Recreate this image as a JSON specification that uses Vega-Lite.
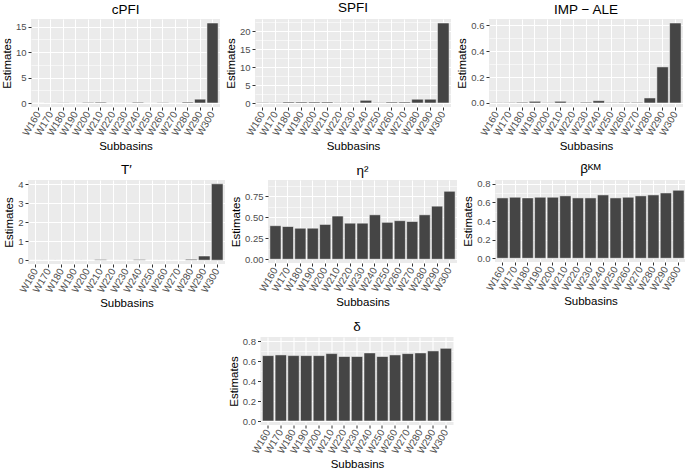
{
  "$schema": "https://vega.github.io/schema/vega-lite/v6.json",
  "padding": {"left": 1, "top": 0, "right": 1, "bottom": 2},
  "background": "white",
  "datasets": {
    "est": [
      {"sub": "W160", "cPFI": 0.0, "SPFI": 0.12, "IMP": 0.003, "T": 0.0, "eta": 0.40, "beta": 0.648, "delta": 0.654},
      {"sub": "W170", "cPFI": 0.02, "SPFI": 0.12, "IMP": 0.003, "T": 0.0, "eta": 0.39, "beta": 0.655, "delta": 0.661},
      {"sub": "W180", "cPFI": 0.04, "SPFI": 0.28, "IMP": 0.006, "T": 0.0, "eta": 0.37, "beta": 0.648, "delta": 0.654},
      {"sub": "W190", "cPFI": 0.01, "SPFI": 0.28, "IMP": 0.013, "T": 0.0, "eta": 0.37, "beta": 0.655, "delta": 0.654},
      {"sub": "W200", "cPFI": 0.12, "SPFI": 0.28, "IMP": 0.003, "T": 0.0, "eta": 0.415, "beta": 0.655, "delta": 0.654},
      {"sub": "W210", "cPFI": 0.16, "SPFI": 0.28, "IMP": 0.013, "T": 0.04, "eta": 0.515, "beta": 0.670, "delta": 0.674},
      {"sub": "W220", "cPFI": 0.01, "SPFI": 0.12, "IMP": 0.003, "T": 0.0, "eta": 0.43, "beta": 0.648, "delta": 0.645},
      {"sub": "W230", "cPFI": 0.01, "SPFI": 0.15, "IMP": 0.006, "T": 0.0, "eta": 0.43, "beta": 0.648, "delta": 0.645},
      {"sub": "W240", "cPFI": 0.15, "SPFI": 0.75, "IMP": 0.018, "T": 0.04, "eta": 0.53, "beta": 0.680, "delta": 0.681},
      {"sub": "W250", "cPFI": 0.01, "SPFI": 0.12, "IMP": 0.003, "T": 0.0, "eta": 0.44, "beta": 0.648, "delta": 0.645},
      {"sub": "W260", "cPFI": 0.10, "SPFI": 0.25, "IMP": 0.005, "T": 0.0, "eta": 0.46, "beta": 0.655, "delta": 0.661},
      {"sub": "W270", "cPFI": 0.01, "SPFI": 0.28, "IMP": 0.005, "T": 0.0, "eta": 0.45, "beta": 0.670, "delta": 0.674},
      {"sub": "W280", "cPFI": 0.18, "SPFI": 1.05, "IMP": 0.039, "T": 0.05, "eta": 0.53, "beta": 0.680, "delta": 0.681},
      {"sub": "W290", "cPFI": 0.75, "SPFI": 1.05, "IMP": 0.279, "T": 0.22, "eta": 0.633, "beta": 0.701, "delta": 0.701},
      {"sub": "W300", "cPFI": 15.7, "SPFI": 22.3, "IMP": 0.618, "T": 4.02, "eta": 0.81, "beta": 0.730, "delta": 0.727}
    ]
  },
  "config": {
    "font": "Liberation Sans",
    "view": {"fill": "#EBEBEB", "stroke": null},
    "axis": {
      "domain": false,
      "tickColor": "#333333",
      "tickSize": 3,
      "tickWidth": 1,
      "labelColor": "#4D4D4D",
      "labelFontSize": 9.5,
      "labelPadding": 2,
      "labelFont": "Liberation Sans",
      "titleFont": "Liberation Sans",
      "titleFontSize": 11.5,
      "titleFontWeight": "normal",
      "titleColor": "#000000",
      "titlePadding": 3,
      "gridColor": "#FFFFFF",
      "gridWidth": 1.1,
      "labelOverlap": false,
      "labelFlush": false
    },
    "axisX": {"labelAngle": -60, "labelAlign": "right", "labelBaseline": "middle", "bandPosition": 0.5, "grid": true, "labelFontSize": 10},
    "title": {"font": "Liberation Sans", "fontSize": 13.5, "fontWeight": "normal", "color": "#000000", "anchor": "middle", "frame": "group", "offset": 3},
    "bar": {"fill": "#454545", "stroke": "#FFFFFF", "strokeWidth": 0.5}
  },
  "vconcat": [
    {
      "hconcat": [
        {
          "title": "cPFI",
          "width": 189, "height": 88,
          "data": {"name": "est"},
          "mark": "bar",
          "encoding": {
            "x": {"field": "sub", "type": "nominal", "sort": null, "scale": {"paddingInner": 0.1, "paddingOuter": 0.15}, "axis": {"title": "Subbasins"}},
            "y": {"field": "cPFI", "type": "quantitative", "scale": {"domain": [-0.785, 16.485], "nice": false, "zero": false},
              "axis": {"title": "Estimates", "format": "d", "values": [0, 2.5, 5, 7.5, 10, 12.5, 15],
                "labelExpr": "abs(datum.value/5 - round(datum.value/5)) > 0.01 ? '' : datum.label",
                "gridWidth": {"condition": {"test": "abs(datum.value/5 - round(datum.value/5)) > 0.01", "value": 0.55}, "value": 1.1},
                "tickOpacity": {"condition": {"test": "abs(datum.value/5 - round(datum.value/5)) > 0.01", "value": 0}, "value": 1}}},
            "y2": {"datum": 0}
          }
        },
        {
          "title": "SPFI",
          "width": 196, "height": 88,
          "data": {"name": "est"},
          "mark": "bar",
          "encoding": {
            "x": {"field": "sub", "type": "nominal", "sort": null, "scale": {"paddingInner": 0.1, "paddingOuter": 0.15}, "axis": {"title": "Subbasins"}},
            "y": {"field": "SPFI", "type": "quantitative", "scale": {"domain": [-1.115, 23.415], "nice": false, "zero": false},
              "axis": {"title": "Estimates", "format": "d", "values": [0, 2.5, 5, 7.5, 10, 12.5, 15, 17.5, 20, 22.5],
                "labelExpr": "abs(datum.value/5 - round(datum.value/5)) > 0.01 ? '' : datum.label",
                "gridWidth": {"condition": {"test": "abs(datum.value/5 - round(datum.value/5)) > 0.01", "value": 0.55}, "value": 1.1},
                "tickOpacity": {"condition": {"test": "abs(datum.value/5 - round(datum.value/5)) > 0.01", "value": 0}, "value": 1}}},
            "y2": {"datum": 0}
          }
        },
        {
          "title": "IMP − ALE",
          "width": 194, "height": 88,
          "data": {"name": "est"},
          "mark": "bar",
          "encoding": {
            "x": {"field": "sub", "type": "nominal", "sort": null, "scale": {"paddingInner": 0.1, "paddingOuter": 0.15}, "axis": {"title": "Subbasins"}},
            "y": {"field": "IMP", "type": "quantitative", "scale": {"domain": [-0.031, 0.649], "nice": false, "zero": false},
              "axis": {"title": "Estimates", "format": ".1f", "values": [0, 0.1, 0.2, 0.3, 0.4, 0.5, 0.6],
                "labelExpr": "abs(datum.value/0.2 - round(datum.value/0.2)) > 0.01 ? '' : datum.label",
                "gridWidth": {"condition": {"test": "abs(datum.value/0.2 - round(datum.value/0.2)) > 0.01", "value": 0.55}, "value": 1.1},
                "tickOpacity": {"condition": {"test": "abs(datum.value/0.2 - round(datum.value/0.2)) > 0.01", "value": 0}, "value": 1}}},
            "y2": {"datum": 0}
          }
        }
      ],
      "spacing": 5
    },
    {
      "hconcat": [
        {
          "title": "T′",
          "width": 197, "height": 84,
          "data": {"name": "est"},
          "mark": "bar",
          "encoding": {
            "x": {"field": "sub", "type": "nominal", "sort": null, "scale": {"paddingInner": 0.1, "paddingOuter": 0.15}, "axis": {"title": "Subbasins"}},
            "y": {"field": "T", "type": "quantitative", "scale": {"domain": [-0.201, 4.221], "nice": false, "zero": false},
              "axis": {"title": "Estimates", "format": "d", "values": [0, 0.5, 1, 1.5, 2, 2.5, 3, 3.5, 4],
                "labelExpr": "abs(datum.value - round(datum.value)) > 0.01 ? '' : datum.label",
                "gridWidth": {"condition": {"test": "abs(datum.value - round(datum.value)) > 0.01", "value": 0.55}, "value": 1.1},
                "tickOpacity": {"condition": {"test": "abs(datum.value - round(datum.value)) > 0.01", "value": 0}, "value": 1}}},
            "y2": {"datum": 0}
          }
        },
        {
          "title": "η²",
          "width": 189, "height": 83,
          "data": {"name": "est"},
          "mark": "bar",
          "encoding": {
            "x": {"field": "sub", "type": "nominal", "sort": null, "scale": {"paddingInner": 0.1, "paddingOuter": 0.15}, "axis": {"title": "Subbasins"}},
            "y": {"field": "eta", "type": "quantitative", "scale": {"domain": [-0.045, 0.945], "nice": false, "zero": false},
              "axis": {"title": "Estimates", "format": ".2f", "values": [0, 0.125, 0.25, 0.375, 0.5, 0.625, 0.75, 0.875],
                "labelExpr": "abs(datum.value/0.25 - round(datum.value/0.25)) > 0.01 ? '' : datum.label",
                "gridWidth": {"condition": {"test": "abs(datum.value/0.25 - round(datum.value/0.25)) > 0.01", "value": 0.55}, "value": 1.1},
                "tickOpacity": {"condition": {"test": "abs(datum.value/0.25 - round(datum.value/0.25)) > 0.01", "value": 0}, "value": 1}}},
            "y2": {"datum": 0}
          }
        },
        {
          "title": "βᴷᴹ",
          "width": 191, "height": 82,
          "data": {"name": "est"},
          "mark": "bar",
          "encoding": {
            "x": {"field": "sub", "type": "nominal", "sort": null, "scale": {"paddingInner": 0.1, "paddingOuter": 0.15}, "axis": {"title": "Subbasins"}},
            "y": {"field": "beta", "type": "quantitative", "scale": {"domain": [-0.04, 0.84], "nice": false, "zero": false},
              "axis": {"title": "Estimates", "format": ".1f", "values": [0, 0.1, 0.2, 0.3, 0.4, 0.5, 0.6, 0.7, 0.8],
                "labelExpr": "abs(datum.value/0.2 - round(datum.value/0.2)) > 0.01 ? '' : datum.label",
                "gridWidth": {"condition": {"test": "abs(datum.value/0.2 - round(datum.value/0.2)) > 0.01", "value": 0.55}, "value": 1.1},
                "tickOpacity": {"condition": {"test": "abs(datum.value/0.2 - round(datum.value/0.2)) > 0.01", "value": 0}, "value": 1}}},
            "y2": {"datum": 0}
          }
        }
      ],
      "spacing": 5
    },
    {
      "title": "δ",
      "width": 193, "height": 88,
      "data": {"name": "est"},
      "mark": "bar",
      "encoding": {
        "x": {"field": "sub", "type": "nominal", "sort": null, "scale": {"paddingInner": 0.1, "paddingOuter": 0.15}, "axis": {"title": "Subbasins"}},
        "y": {"field": "delta", "type": "quantitative", "scale": {"domain": [-0.04, 0.84], "nice": false, "zero": false},
          "axis": {"title": "Estimates", "format": ".1f", "values": [0, 0.1, 0.2, 0.3, 0.4, 0.5, 0.6, 0.7, 0.8],
            "labelExpr": "abs(datum.value/0.2 - round(datum.value/0.2)) > 0.01 ? '' : datum.label",
            "gridWidth": {"condition": {"test": "abs(datum.value/0.2 - round(datum.value/0.2)) > 0.01", "value": 0.55}, "value": 1.1},
            "tickOpacity": {"condition": {"test": "abs(datum.value/0.2 - round(datum.value/0.2)) > 0.01", "value": 0}, "value": 1}}},
        "y2": {"datum": 0}
      }
    }
  ],
  "spacing": 10,
  "center": true
}
